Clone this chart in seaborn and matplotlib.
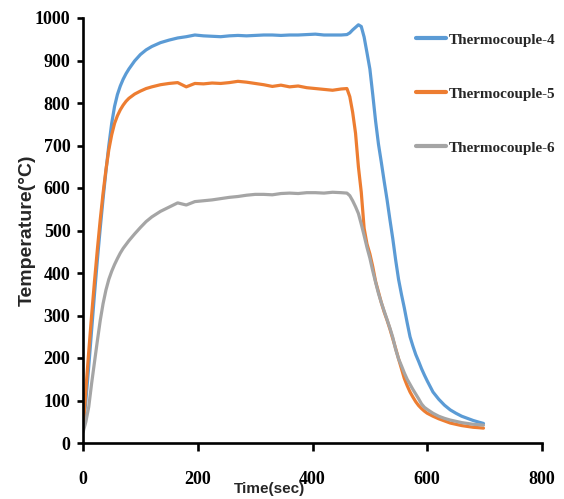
import matplotlib
matplotlib.use("Agg")
import matplotlib.pyplot as plt
import seaborn as sns
import pandas as pd

# Sampling times (s) shared by the three thermocouples
time_s = [0, 5, 10, 15, 20, 25, 30, 35, 40, 45, 50, 55, 60, 65, 70, 75, 80,
          90, 100, 110, 120,
          135, 150, 165, 180, 195, 210, 225, 240, 255, 270, 285, 300, 315, 330, 345,
          360, 375, 390, 405, 420, 435, 450,
          460, 465, 470, 475, 480, 485, 490, 495, 500, 505, 510, 515, 520, 525, 530,
          535, 540, 545, 550, 555, 560, 565, 570, 575, 580, 585, 590, 595, 600,
          610, 620, 630, 640, 650, 660, 670, 680, 690, 698]

tc4 = [30, 100, 180, 265, 350, 430, 505, 575, 640, 700, 752, 792, 820, 840, 856, 869, 880,
       899, 914, 925, 933,
       942, 948, 953, 956, 960, 958, 957, 956, 958, 959, 958, 959, 960, 960, 959,
       960, 960, 961, 962, 960, 960, 960,
       961, 965, 972, 978, 984, 980, 955, 918, 880, 820, 757, 703, 660, 615, 572,
       525, 480, 430, 385, 350, 318, 283, 250, 228, 208, 192, 175, 160, 146,
       120, 103, 89, 78, 70, 63, 58, 53, 49, 46]

tc5 = [30, 125, 215, 300, 380, 455, 525, 588, 643, 690, 725, 752, 770, 784, 795, 804, 811,
       821, 828, 834, 838,
       843, 846, 848, 838, 846, 845, 847, 846, 848, 851, 849, 846, 843, 839, 842,
       838, 840, 836, 834, 832, 830, 833,
       834, 815, 778, 729, 650, 590, 505, 468, 445, 415, 380, 355, 330, 308, 289,
       268, 245, 222, 198, 175, 152, 135, 120, 108, 97, 88, 81, 75, 70,
       63, 57, 52, 47, 44, 41, 39, 37, 36, 35]

tc6 = [25, 50, 85, 140, 190, 240, 288, 328, 360, 385, 404, 420, 434, 447, 458, 467, 476,
       492, 507, 521, 532,
       545, 555, 565, 560, 568, 570, 572, 575, 578, 580, 583, 585, 585, 584, 587,
       588, 587, 589, 589, 588, 590, 589,
       588, 582, 570, 556, 540, 515, 488, 460, 435, 405, 378, 352, 330, 310, 290,
       270, 248, 220, 198, 182, 165, 150, 138, 126, 115, 104, 92, 84, 79,
       70, 63, 58, 54, 51, 48, 46, 44, 43, 42]

series_names = ["Thermocouple-4", "Thermocouple-5", "Thermocouple-6"]
series_colors = ["#5B9BD5", "#ED7D31", "#A5A5A5"]

x_ticks = [0, 200, 400, 600, 800]
y_ticks = [0, 100, 200, 300, 400, 500, 600, 700, 800, 900, 1000]

frames = []
for name, vals in zip(series_names, [tc4, tc5, tc6]):
    frames.append(pd.DataFrame({"Time": time_s, "Temperature": vals, "Sensor": name}))
df = pd.concat(frames, ignore_index=True)

sns.set_style("ticks")
serif = ["Liberation Serif", "DejaVu Serif"]
sans = ["Liberation Sans", "DejaVu Sans"]

fig = plt.figure(figsize=(5.64, 4.99), dpi=100)
ax = fig.add_axes([83 / 564, 1 - 443 / 499, 459 / 564, 425 / 499])

sns.lineplot(data=df, x="Time", y="Temperature", hue="Sensor",
             palette=dict(zip(series_names, series_colors)),
             linewidth=2.3, ax=ax, sort=False, estimator=None)

ax.set_xlim(0, 800)
ax.set_ylim(0, 1000)
ax.set_xticks(x_ticks)
ax.set_yticks(y_ticks)
ax.set_xticklabels([str(v) for v in x_ticks])
ax.set_yticklabels([str(v) for v in y_ticks])
for lab in ax.get_xticklabels() + ax.get_yticklabels():
    lab.set_fontfamily(serif)
    lab.set_fontweight("bold")
    lab.set_fontsize(13)

sns.despine(ax=ax)
for side in ["left", "bottom"]:
    ax.spines[side].set_linewidth(1.9)
    ax.spines[side].set_color("black")
ax.tick_params(axis="x", direction="out", length=6, width=1.9, pad=14, colors="black")
ax.tick_params(axis="y", direction="out", length=4, width=1.9, pad=5, colors="black")

ax.set_xlabel("Time(sec)", fontfamily=sans, fontweight="bold", fontsize=11)
ax.xaxis.set_label_coords(0.407, -0.092)
ax.set_ylabel("Temperature(°C)", fontfamily=sans, fontweight="bold", fontsize=14)
ax.yaxis.set_label_coords(-0.104, 0.5)

handles, labels = ax.get_legend_handles_labels()
leg = ax.legend(handles, labels, loc="upper left",
                bbox_to_anchor=(416 / 564, 1 - 33 / 499), bbox_transform=fig.transFigure,
                frameon=False, handlelength=2.0, handletextpad=0.15, labelspacing=2.67,
                borderpad=0, borderaxespad=0,
                prop={"family": serif, "weight": "bold", "size": 10.9})
for line in leg.get_lines():
    line.set_linewidth(3)

fig.savefig("out.png", dpi=100)
